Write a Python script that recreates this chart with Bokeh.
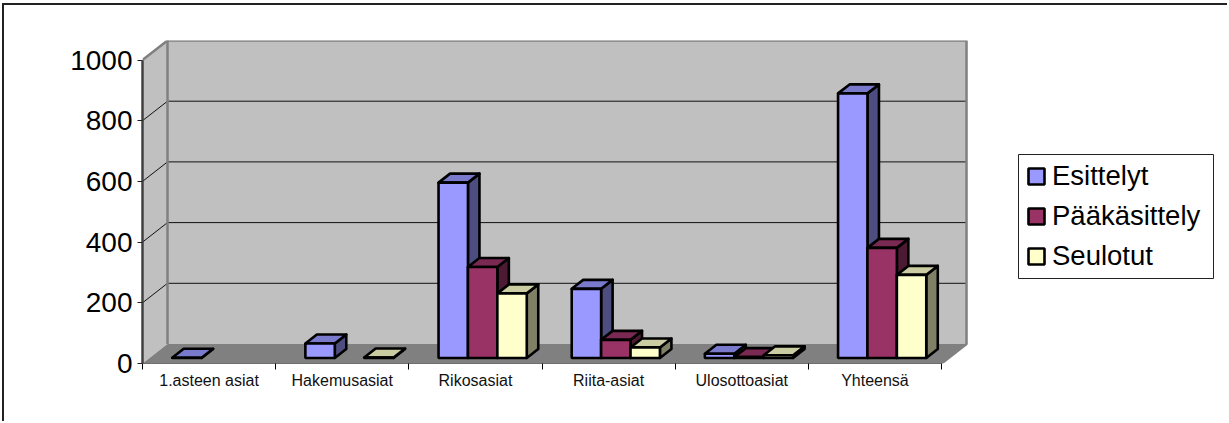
from bokeh.embed import file_html
from bokeh.resources import INLINE
from bokeh.plotting import figure
from bokeh.models import (FixedTicker, Legend, LegendItem, LinearAxis, Range1d)

# ---- data -----------------------------------------------------------------
categories = ["1.asteen asiat", "Hakemusasiat", "Rikosasiat", "Riita-asiat", "Ulosottoasiat", "Yhteensä"]
series_names = ["Esittelyt", "Pääkäsittely", "Seulotut"]
esittelyt = [1, 48, 578, 228, 14, 872]
paakasittely = [None, None, 300, 60, 3, 363]
seulotut = [None, 2, 213, 35, 9, 274]
y_ticks = [0, 200, 400, 600, 800, 1000]

front_colors = ["#9999FF", "#993366", "#FFFFCC"]
top_colors = ["#7A7ACC", "#7A2952", "#CCCCA3"]
side_colors = ["#4D4D80", "#4D1A33", "#808066"]

# ---- layout ---------------------------------------------------------------
W, H = 1229, 423
ORIGIN_X, ORIGIN_Y = 4, 5   # where the figure's content starts, inside its CSS frame
LEFT, RIGHT, TOP, BOTTOM = 142, 966, 40, 363
SLOT_PX = 133.17
UNIT_PX = 0.3035
DX = 25 / SLOT_PX      # wall depth expressed in category units
DY = 19.5 / UNIT_PX    # wall depth expressed in value units
N = len(categories)
BAR_START = 0.1705
BAR_W = 0.2208
D0, D1 = 0.28, 0.74
FONT = "Liberation Sans"

x_end = (W - LEFT) / SLOT_PX
y_end = (BOTTOM - TOP) / UNIT_PX

p = figure(width=W - ORIGIN_X, height=H - ORIGIN_Y, output_backend="svg", toolbar_location=None,
           x_range=Range1d(0, x_end), y_range=Range1d(0, y_end),
           x_axis_type=None, y_axis_type=None,
           min_border_left=LEFT - ORIGIN_X, min_border_right=0,
           min_border_top=TOP - ORIGIN_Y, min_border_bottom=H - BOTTOM,
           background_fill_color=None, border_fill_color="white",
           margin=0, styles={"position": "absolute", "left": "2px", "top": "3px",
                             "border-left": "2px solid #222222", "border-top": "2px solid #222222"})
p.outline_line_color = None
p.grid.visible = False

WALL = "#C0C0C0"
FLOOR = "#808080"
EDGE = "#808080"

# walls and floor
p.patch([0, DX, DX, 0], [0, DY, DY + 1000, 1000], fill_color=WALL, line_color=None)
p.patch([DX, N + DX, N + DX, DX], [DY, DY, DY + 1000, DY + 1000], fill_color=WALL, line_color=None)
p.patch([0, N, N + DX, DX], [0, 0, DY, DY], fill_color=FLOOR, line_color=None)

# gridlines on walls
grid_vals = y_ticks[1:-1]
p.multi_line([[0, DX, N + DX] for _ in grid_vals],
             [[v, v + DY, v + DY] for v in grid_vals],
             line_color="#111111", line_width=1)

# wall edges
p.line([0, DX, N + DX, N + DX, N], [1000, DY + 1000, DY + 1000, DY, 0],
       line_color=EDGE, line_width=2.5)
p.line([DX, DX], [DY, DY + 1000], line_color=EDGE, line_width=2.5)

# category axis line, stopping at the last tick
p.line([0, N], [0, 0], line_color="black", line_width=1)

# bars
items = []
for s, values in enumerate([esittelyt, paakasittely, seulotut]):
    lefts, rights, tops = [], [], []
    for c, v in enumerate(values):
        if v is None:
            continue
        x0 = c + BAR_START + s * BAR_W
        lefts.append(x0)
        rights.append(x0 + BAR_W)
        tops.append(v)
    base = D0 * DY
    dx0, dx1 = D0 * DX, D1 * DX
    dy1 = D1 * DY
    side_x = [[r + dx0, r + dx1, r + dx1, r + dx0] for r in rights]
    side_y = [[base, dy1, t + dy1, t + base] for t in tops]
    top_x = [[l + dx0, r + dx0, r + dx1, l + dx1] for l, r in zip(lefts, rights)]
    top_y = [[t + base, t + base, t + dy1, t + dy1] for t in tops]
    p.patches(side_x, side_y, fill_color=side_colors[s], line_color="black", line_width=2.6, line_join="round")
    p.patches(top_x, top_y, fill_color=top_colors[s], line_color="black", line_width=2.6, line_join="round")
    r = p.quad(left=[l + dx0 for l in lefts], right=[r_ + dx0 for r_ in rights],
               bottom=[base] * len(tops), top=[t + base for t in tops],
               fill_color=front_colors[s], line_color="black", line_width=2.6)
    items.append(LegendItem(label=series_names[s], renderers=[r]))

# axes
yaxis = LinearAxis(ticker=FixedTicker(ticks=y_ticks), bounds=(0, 1000))
yaxis.axis_line_color = "#404040"
yaxis.axis_line_width = 2.5
yaxis.major_tick_line_color = "#202020"
yaxis.major_tick_in = 0
yaxis.major_tick_out = 5
yaxis.minor_tick_line_color = None
yaxis.major_label_text_font = FONT
yaxis.major_label_text_font_size = "28px"
yaxis.major_label_text_color = "black"
yaxis.major_label_standoff = 5
p.add_layout(yaxis, "left")

centers = [i + 0.5 for i in range(N)]
xaxis = LinearAxis(ticker=FixedTicker(ticks=centers, minor_ticks=list(range(N + 1))))
xaxis.major_label_overrides = {c: name for c, name in zip(centers, categories)}
xaxis.axis_line_color = None
xaxis.major_tick_line_color = None
xaxis.minor_tick_line_color = "black"
xaxis.minor_tick_in = 0
xaxis.minor_tick_out = 6
xaxis.major_label_text_font = FONT
xaxis.major_label_text_font_size = "16px"
xaxis.major_label_text_color = "#111111"
xaxis.major_label_standoff = 2
p.add_layout(xaxis, "below")

# legend frame, then the legend itself
BOX_L, BOX_R, BOX_T, BOX_B = 1018, 1213, 154, 278
p.quad(left=[(BOX_L - LEFT) / SLOT_PX], right=[(BOX_R - LEFT) / SLOT_PX],
       top=[(BOTTOM - BOX_T) / UNIT_PX], bottom=[(BOTTOM - BOX_B) / UNIT_PX],
       fill_color="white", line_color="#222222", line_width=1)
legend = Legend(items=items, location=(BOX_L - LEFT + 8, BOTTOM - BOX_B + 6), orientation="vertical",
                label_text_font=FONT, label_text_font_size="27.5px", label_text_color="black",
                glyph_width=20, glyph_height=20, label_standoff=6, spacing=8, padding=0, margin=0,
                border_line_color=None, background_fill_alpha=0, click_policy="none")
p.add_layout(legend, "center")

open("out.html", "w").write(file_html(p, INLINE))
